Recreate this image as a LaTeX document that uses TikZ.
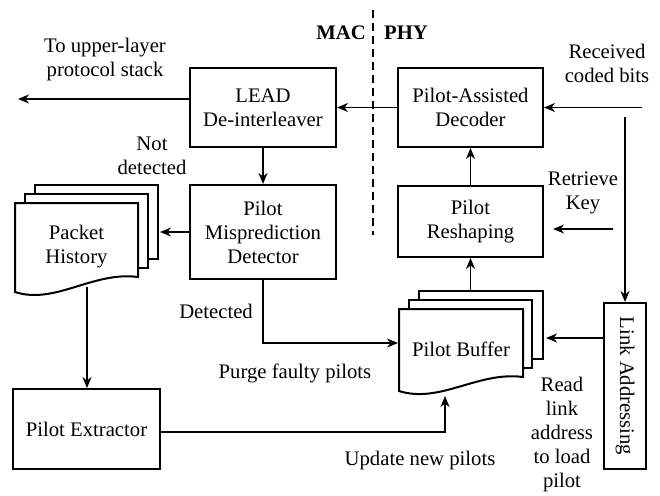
\documentclass[tikz,border=0pt]{standalone}
\usepackage{fontspec}
\setmainfont{Liberation Serif}
\usetikzlibrary{arrows.meta,calc}
\begin{document}
\begin{tikzpicture}[x=1pt,y=-1pt,
  every node/.style={font=\fontsize{20.7}{24}\selectfont, align=center, inner sep=0pt},
  box/.style={draw, line width=2pt, fill=white},
  doc/.style={draw, line width=2pt, fill=white},
  conn/.style={line width=1.8pt, -{Stealth[length=11pt,width=9pt,inset=3.5pt]}},
  lbl/.style={}]
\path[use as bounding box] (0,0) rectangle (660,495);

% boxes
\node[box, minimum width=146pt, minimum height=79pt] (lead) at (263,107.5) {LEAD\\De-interleaver};
\node[box, minimum width=145pt, minimum height=79pt] (dec) at (470.5,107.5) {Pilot-Assisted\\Decoder};
\node[box, minimum width=146pt, minimum height=94pt] (pmd) at (263,232) {Pilot\\Misprediction\\Detector};
\node[box, minimum width=145pt, minimum height=71pt] (resh) at (470.5,221.5) {Pilot\\Reshaping};
\node[box, minimum width=147pt, minimum height=80pt] (pe) at (86.5,429) {Pilot Extractor};
\node[box, minimum width=42pt, minimum height=166pt] (la) at (625,386) {};
\node[rotate=-90] (latext) at (la.center) {Link Addressing};

% Packet History stack
\draw[doc] (35,185) rectangle (158,259);
\draw[doc] (25,194) rectangle (148,268);
\draw[doc] (15,203) -- (138,203) -- (138,277) .. controls (93,271) and (55,305) .. (15,292) -- cycle;
\node (ph) at (76.5,247) {Packet\\History};

% Pilot Buffer stack
\draw[doc] (419,291) rectangle (543,359);
\draw[doc] (409,300) rectangle (532,368);
\draw[doc] (399,309) -- (523,309) -- (523,377) .. controls (478,371) and (440,404) .. (399,391) -- cycle;
\node (pb) at (461,349) {Pilot Buffer};

% MAC / PHY
\draw[line width=1.8pt, dash pattern=on 8pt off 5pt] (373,10) -- (373,235);
\node[anchor=east, font=\fontsize{20.7}{24}\selectfont\bfseries] (mac) at (366,33) {MAC};
\node[anchor=west, font=\fontsize{20.7}{24}\selectfont\bfseries] (phy) at (384,33) {PHY};

% coordinates
\coordinate (up) at (18,99);
\coordinate (rx) at (642,107.5);
\coordinate (vtop) at (625,117);
\coordinate (rk) at (613,229);
\coordinate (rkend) at (553,229);
\coordinate (phe) at (160,232);
\coordinate (phb) at (87,287);
\coordinate (pbw) at (398,343);
\coordinate (pbbot) at (445,396);
\coordinate (pelow) at (160,432);
\coordinate (pbtop) at (470.5,291);
\coordinate (pbe) at (546,338);
\coordinate (law) at (604,338);

% connectors
\draw[conn] (lead.west |- up) -- (up);
\draw[conn] (dec.west) -- (lead.east);
\draw[conn] (rx) -- (dec.east);
\draw[conn] (vtop) -- (la.north);
\draw[conn] (rk) -- (rkend);
\draw[conn] (lead.south) -- (pmd.north);
\draw[conn] (pmd.west) -- (phe);
\draw[conn] (phb) -- (phb |- pe.north);
\draw[conn] (pmd.south) |- (pbw);
\draw[conn] (pelow) -| (pbbot);
\draw[conn] (pbtop) -- (resh.south);
\draw[conn] (resh.north) -- (dec.south);
\draw[conn] (law) -- (pbe);

% labels
\node (l1) at (105,60) {To upper-layer\\protocol stack};
\node (l2) at (607,63) {Received\\coded bits};
\node (l3) at (152,156) {Not\\detected};
\node[anchor=east] (l4) at (253,311) {Detected};
\node (l5) at (583,193) {Retrieve\\Key};
\node (l6) at (295,373) {Purge faulty pilots};
\node (l7) at (420,461) {Update new pilots};
\node (l8) at (562,435) {Read\\link\\address\\to load\\pilot};
\end{tikzpicture}
\end{document}
